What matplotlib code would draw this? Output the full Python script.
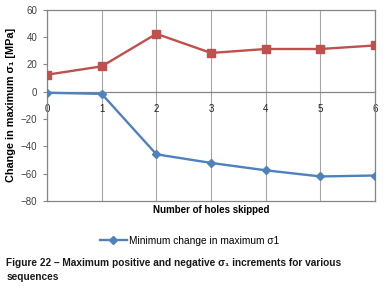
import matplotlib
matplotlib.use('Agg')
import matplotlib.pyplot as plt

plt.rcParams['font.family'] = ['Liberation Sans', 'DejaVu Sans']

holes = [0, 1, 2, 3, 4, 5, 6]
max_change = [12.4, 18.5, 42.3, 28.3, 31.2, 31.2, 33.8]
min_change = [-0.8, -1.6, -45.8, -52.1, -57.5, -62.0, -61.3]
yticks = [-80, -60, -40, -20, 0, 20, 40, 60]

red = '#C0504D'
blue = '#4F81BD'

fig = plt.figure(figsize=(3.87, 2.91), dpi=100)
ax = fig.add_axes([0.1214, 0.309, 0.848, 0.658])

ax.plot(holes, max_change, color=red, lw=1.7, marker='s', ms=6,
        markeredgecolor=red, zorder=3)
ax.plot(holes, min_change, color=blue, lw=1.7, marker='D', ms=4.5,
        markeredgecolor=blue, zorder=3, label='Minimum change in maximum σ1')

ax.set_xlim(0, 6)
ax.set_ylim(-80, 60)
ax.set_yticks(yticks)
ax.set_xticks(holes)

for s in ax.spines.values():
    s.set_color('#868686')
    s.set_linewidth(0.9)
ax.spines['bottom'].set_position(('data', 0))
ax.axhline(-80, color='#868686', lw=0.9, clip_on=False)
ax.xaxis.grid(True, color='#A6A6A6', lw=0.8)
ax.tick_params(axis='y', labelsize=7, colors='#868686', labelcolor='#404040',
               length=3, width=0.8, pad=4)
ax.tick_params(axis='x', labelsize=7, labelcolor='#202020', length=0, pad=9)

ax.set_ylabel('Change in maximum σ₁ [MPa]', fontsize=7.8, fontweight='bold',
              labelpad=3)
fig.text(0.546, 0.279, 'Number of holes skipped', fontsize=7,
         fontweight='bold', ha='center', va='center')

fig.legend(loc='center', bbox_to_anchor=(0.49, 0.172), frameon=False,
           fontsize=7.3, handlelength=2.6, handletextpad=0.2)

fig.text(0.016, 0.096, 'Figure 22 – Maximum positive and negative σ₁ increments for various',
         fontsize=7.3, fontweight='bold', va='center', color='#1a1a1a')
fig.text(0.016, 0.048, 'sequences', fontsize=7.3, fontweight='bold',
         va='center', color='#1a1a1a')

fig.savefig('out.png', dpi=100)
